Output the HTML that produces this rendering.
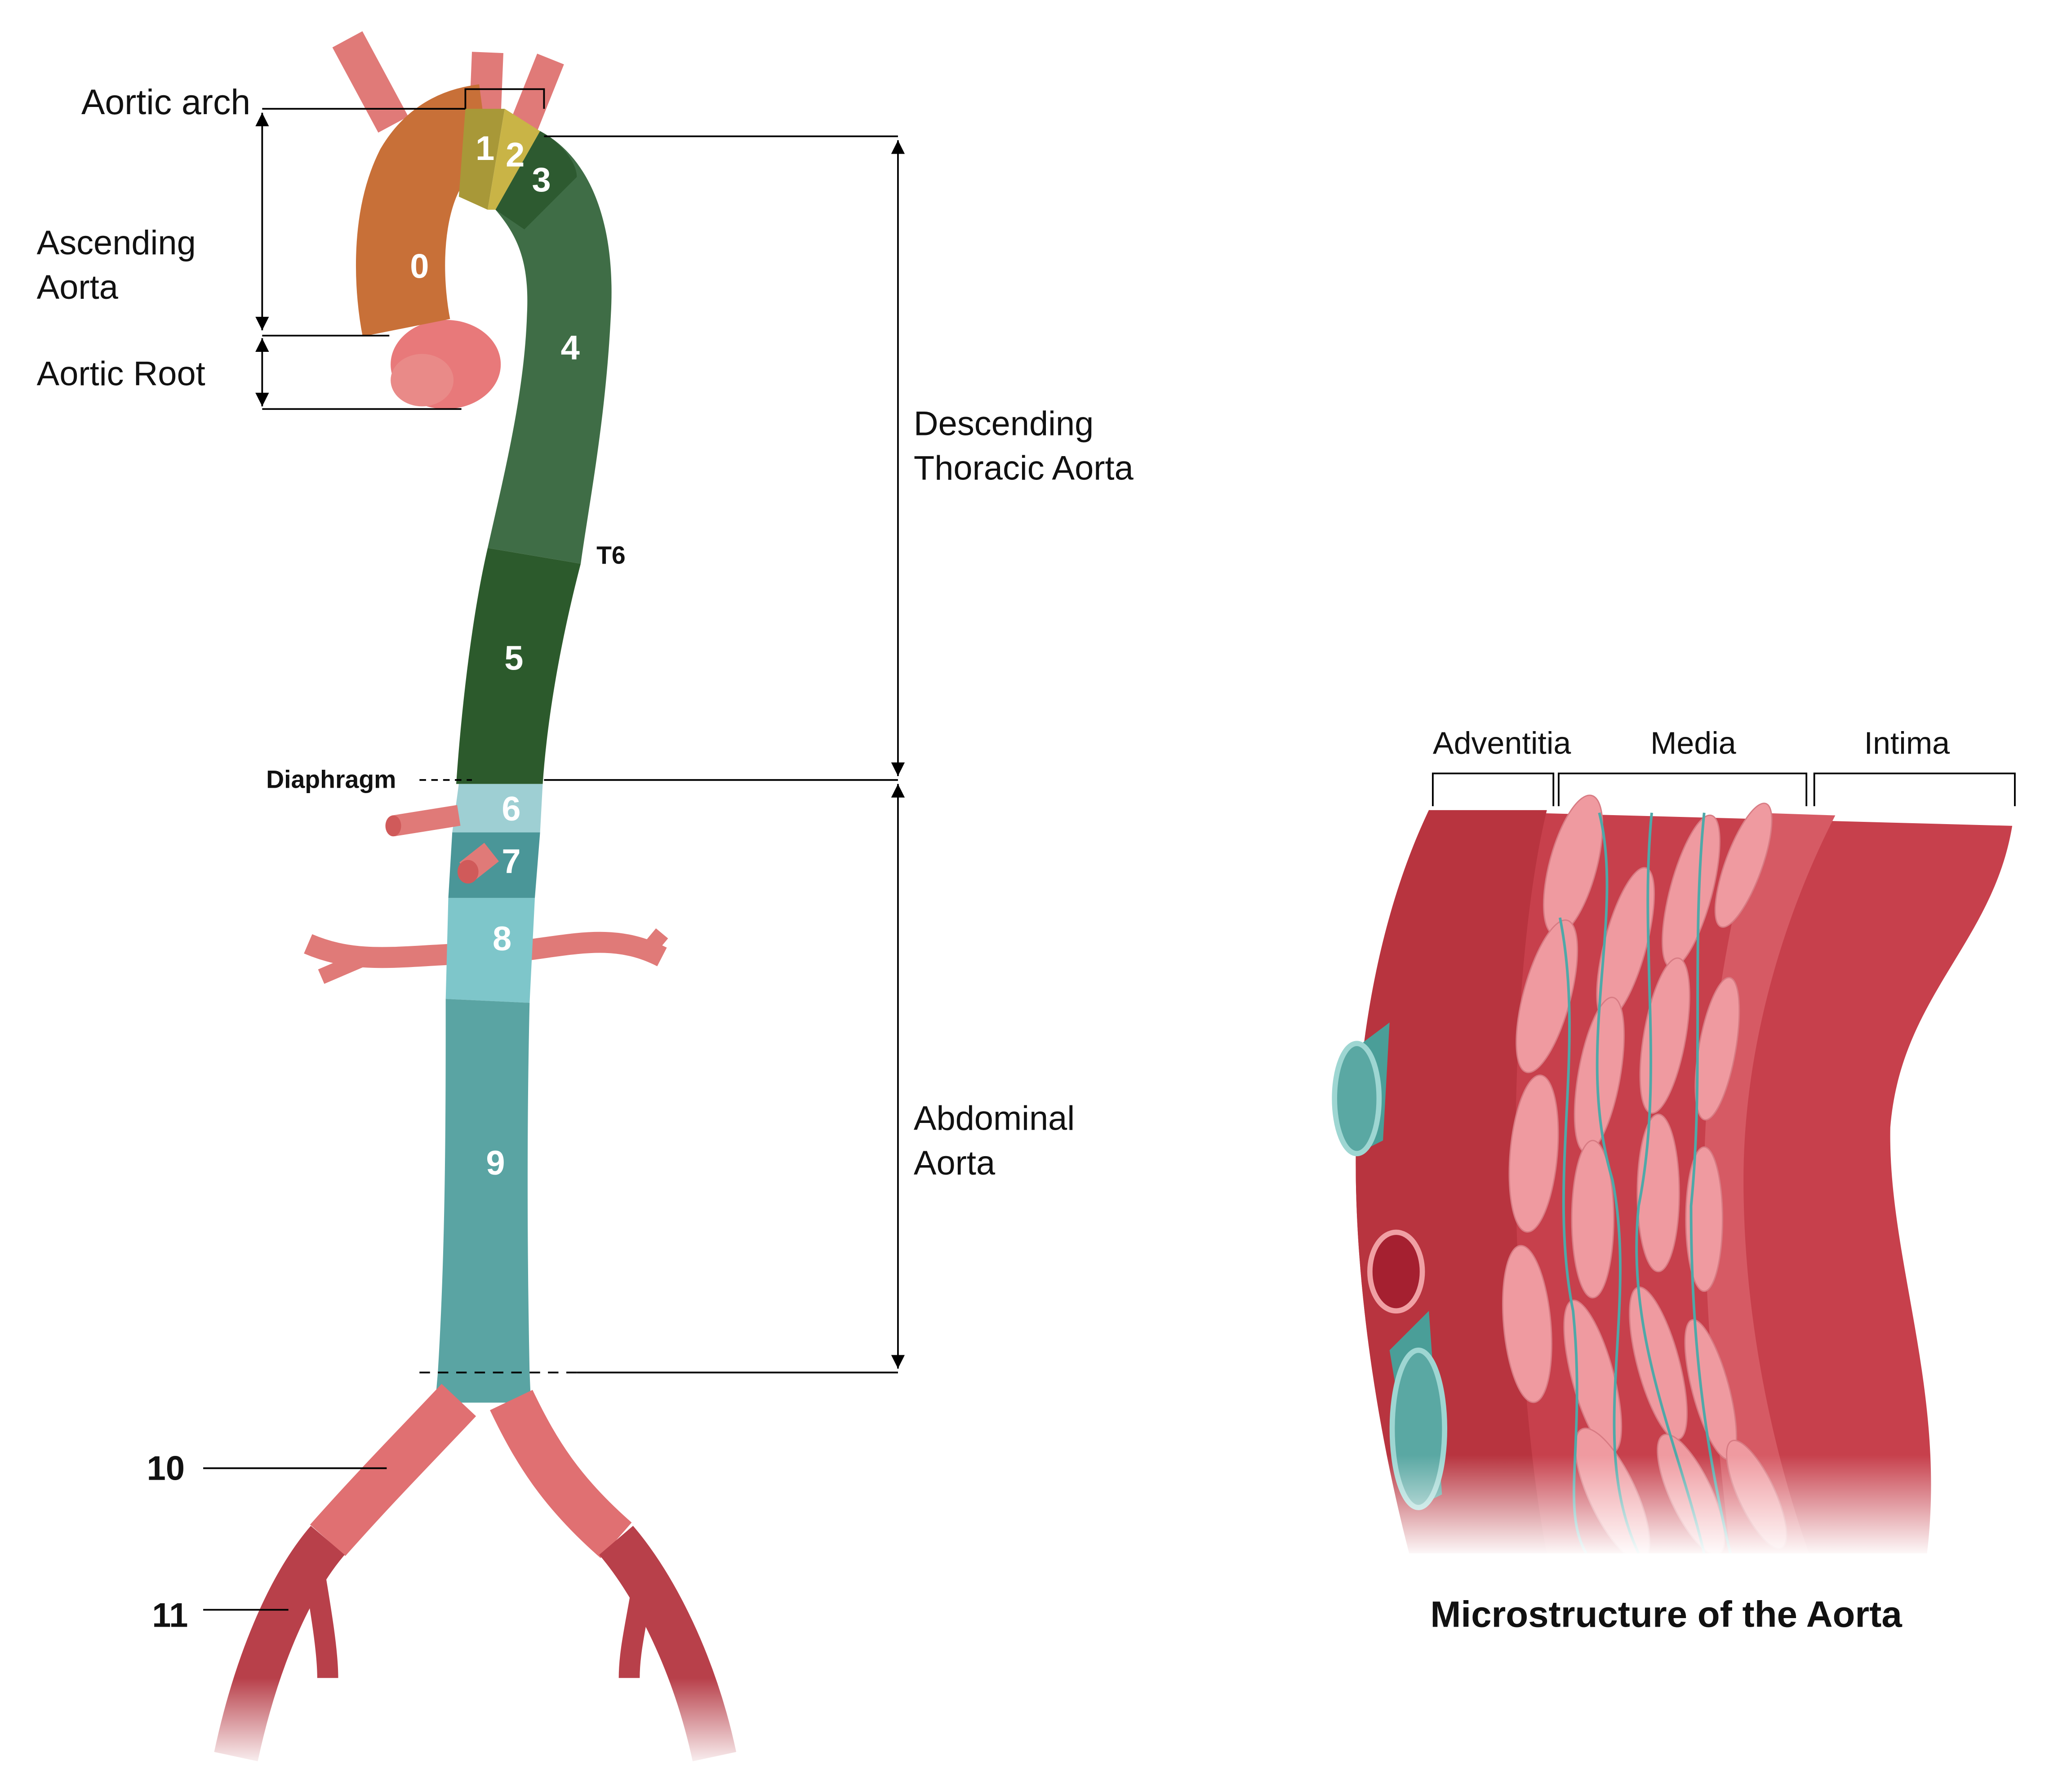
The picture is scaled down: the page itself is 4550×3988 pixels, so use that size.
<!DOCTYPE html>
<html><head><meta charset="utf-8"><style>
html,body{margin:0;padding:0;background:#fff;}
svg{display:block;}
text{font-family:"Liberation Sans",sans-serif;}
</style></head><body>
<svg width="4550" height="3988" viewBox="0 0 1560 1367" preserveAspectRatio="none" xmlns="http://www.w3.org/2000/svg">
<defs>
<marker id="ar" viewBox="0 0 10 10" refX="10" refY="5" markerWidth="8" markerHeight="8" orient="auto-start-reverse"><path d="M0,0 L10,5 L0,10z" fill="#000"/></marker>
<linearGradient id="fade" x1="0" y1="0" x2="0" y2="1"><stop offset="0" stop-color="#fff" stop-opacity="0"/><stop offset="1" stop-color="#fff" stop-opacity="1"/></linearGradient>
</defs>
<rect width="1560" height="1367" fill="#fff"/>

<path d="M265,30 L300,95" stroke="#e07a78" stroke-width="26" fill="none"/>
<path d="M372,40 L370,90" stroke="#e07a78" stroke-width="24" fill="none"/>
<path d="M420,45 L400,95" stroke="#e07a78" stroke-width="22" fill="none"/>
<ellipse cx="340" cy="278" rx="42" ry="34" fill="#e8797a"/>
<ellipse cx="322" cy="290" rx="24" ry="20" fill="#e98a88"/>
<path d="M310,250 C305,225 300,170 320,130 C335,105 355,100 370,98" stroke="#c87038" stroke-width="68" fill="none"/>
<path d="M370,160 C355,170 350,210 365,245 L380,240 C372,200 372,175 380,165z" fill="#fff"/>
<path d="M355,83 L385,83 L372,160 L350,150z" fill="#a89838"/>
<path d="M385,83 L412,100 L378,160 L372,160z" fill="#c9b446"/>
<path d="M412,100 C450,120 470,170 466,240 C462,320 450,380 443,430 L372,418 C385,360 400,300 402,240 C404,200 395,180 378,160z" fill="#3f6d46"/>
<path d="M412,100 C430,110 440,125 440,135 L400,175 L378,160z" fill="#2d5a30"/>
<path d="M372,418 L443,430 C430,480 418,540 414,598 L348,598 C352,540 360,470 372,418z" fill="#2c5a2c"/>
<path d="M350,598 L414,598 L412,635 L345,635z" fill="#9ecfd3"/>
<path d="M345,635 L412,635 L408,685 L342,685z" fill="#4a9698"/>
<path d="M300,630 L350,622" stroke="#e07a78" stroke-width="16" fill="none"/>
<ellipse cx="300" cy="630" rx="6" ry="8" fill="#d05a5a"/>
<path d="M356,665 L375,650" stroke="#e07a78" stroke-width="18" fill="none"/>
<ellipse cx="357" cy="665" rx="8" ry="9" fill="#d05a5a"/>
<path d="M235,720 C270,735 300,730 345,728" stroke="#e07a78" stroke-width="16" fill="none"/>
<path d="M400,725 C440,720 470,712 505,730" stroke="#e07a78" stroke-width="16" fill="none"/>
<path d="M245,745 L280,730" stroke="#e07a78" stroke-width="12" fill="none"/>
<path d="M505,712 L490,730" stroke="#e07a78" stroke-width="12" fill="none"/>
<path d="M342,685 L408,685 L404,765 L340,762z" fill="#7ec6ca"/>
<path d="M340,762 L404,765 C402,850 402,950 404,1047 L334,1047 C340,950 340,850 340,762z" fill="#5aa4a3"/>
<path d="M334,1047 L404,1047 L405,1070 L332,1070z" fill="#5aa4a3"/>
<path d="M350,1068 C320,1100 290,1130 250,1175" stroke="#e07072" stroke-width="36" fill="none"/>
<path d="M390,1068 C410,1110 430,1140 470,1175" stroke="#e07072" stroke-width="36" fill="none"/>
<path d="M250,1175 C220,1210 195,1270 180,1340" stroke="#b8404a" stroke-width="34" fill="none"/>
<path d="M470,1175 C500,1210 530,1270 545,1340" stroke="#b8404a" stroke-width="34" fill="none"/>
<path d="M240,1200 C245,1230 250,1260 250,1280" stroke="#b8404a" stroke-width="16" fill="none"/>
<path d="M490,1210 C485,1240 480,1260 480,1280" stroke="#b8404a" stroke-width="16" fill="none"/>
<rect x="150" y="1280" width="430" height="70" fill="url(#fade)"/>
<rect x="150" y="1345" width="430" height="22" fill="#fff"/>

<g fill="#fff" font-size="26" font-weight="bold" text-anchor="middle">
<text x="320" y="212">0</text>
<text x="370" y="122">1</text>
<text x="393" y="127">2</text>
<text x="413" y="146">3</text>
<text x="435" y="274">4</text>
<text x="392" y="511">5</text>
<text x="390" y="626">6</text>
<text x="390" y="666">7</text>
<text x="383" y="725">8</text>
<text x="378" y="896">9</text>
</g>

<g stroke="#000" stroke-width="1.3" fill="none">
<path d="M200,83 L355,83"/>
<path d="M355,83 L355,68 L415,68 L415,83"/>
<path d="M200,86 L200,252" marker-start="url(#ar)" marker-end="url(#ar)"/>
<path d="M200,258 L200,310" marker-start="url(#ar)" marker-end="url(#ar)"/>
<path d="M200,256 L297,256"/>
<path d="M200,312 L352,312"/>
<path d="M415,104 L685,104"/>
<path d="M685,107 L685,592" marker-start="url(#ar)" marker-end="url(#ar)"/>
<path d="M415,595 L685,595"/>
<path d="M685,598 L685,1044" marker-start="url(#ar)" marker-end="url(#ar)"/>
<path d="M440,1047 L685,1047"/>
<path d="M320,1047 L440,1047" stroke-dasharray="8,6"/>
<path d="M320,595 L360,595" stroke-dasharray="5,4"/>
<path d="M155,1120 L295,1120"/>
<path d="M155,1228 L220,1228"/>
<path d="M1093,615 L1093,590 L1185,590 L1185,615"/>
<path d="M1189,615 L1189,590 L1378,590 L1378,615"/>
<path d="M1384,615 L1384,590 L1537,590 L1537,615"/>
</g>
<g font-size="26" fill="#111">
<text x="62" y="87" font-size="27">Aortic arch</text>
<text x="28" y="194">Ascending</text>
<text x="28" y="228">Aorta</text>
<text x="28" y="294">Aortic Root</text>
<text x="697" y="332">Descending</text>
<text x="697" y="366">Thoracic Aorta</text>
<text x="697" y="862">Abdominal</text>
<text x="697" y="896">Aorta</text>
<text x="1093" y="575" font-size="24">Adventitia</text>
<text x="1259" y="575" font-size="24">Media</text>
<text x="1422" y="575" font-size="24">Intima</text>
</g>
<g font-weight="bold" fill="#111">
<text x="455" y="430" font-size="19">T6</text>
<text x="203" y="601" font-size="19">Diaphragm</text>
<text x="112" y="1129" font-size="26">10</text>
<text x="116" y="1241" font-size="26">11</text>
<text x="1271" y="1241" font-size="28" text-anchor="middle">Microstructure of the Aorta</text>
</g>

<path d="M1090,618 L1535,630 C1520,720 1450,760 1442,860 C1440,960 1485,1060 1470,1185 L1075,1185 C1040,1050 1025,900 1040,800 C1050,720 1070,660 1090,618z" fill="#c7404c"/>
<path d="M1090,618 L1180,618 C1160,700 1150,850 1160,1000 C1165,1100 1175,1160 1180,1185 L1075,1185 C1040,1050 1025,900 1040,800 C1050,720 1070,660 1090,618z" fill="#b8343f"/>
<path d="M1340,620 L1400,622 C1360,700 1330,800 1330,900 C1330,1000 1350,1100 1380,1185 L1320,1185 C1310,1100 1300,1000 1300,900 C1300,800 1320,700 1340,620z" fill="#d65a64"/>
<g fill="#ef9aa0" stroke="#d87c84" stroke-width="1">
<ellipse cx="1200" cy="660" rx="18" ry="55" transform="rotate(15 1200 660)"/>
<ellipse cx="1240" cy="720" rx="16" ry="60" transform="rotate(15 1240 720)"/>
<ellipse cx="1290" cy="680" rx="16" ry="60" transform="rotate(15 1290 680)"/>
<ellipse cx="1330" cy="660" rx="14" ry="50" transform="rotate(20 1330 660)"/>
<ellipse cx="1180" cy="760" rx="18" ry="60" transform="rotate(15 1180 760)"/>
<ellipse cx="1220" cy="820" rx="16" ry="60" transform="rotate(10 1220 820)"/>
<ellipse cx="1270" cy="790" rx="16" ry="60" transform="rotate(10 1270 790)"/>
<ellipse cx="1310" cy="800" rx="14" ry="55" transform="rotate(10 1310 800)"/>
<ellipse cx="1170" cy="880" rx="18" ry="60" transform="rotate(5 1170 880)"/>
<ellipse cx="1215" cy="930" rx="16" ry="60"/>
<ellipse cx="1265" cy="910" rx="16" ry="60"/>
<ellipse cx="1300" cy="930" rx="14" ry="55"/>
<ellipse cx="1165" cy="1010" rx="18" ry="60" transform="rotate(-5 1165 1010)"/>
<ellipse cx="1215" cy="1050" rx="16" ry="60" transform="rotate(-15 1215 1050)"/>
<ellipse cx="1265" cy="1040" rx="16" ry="60" transform="rotate(-15 1265 1040)"/>
<ellipse cx="1305" cy="1060" rx="14" ry="55" transform="rotate(-15 1305 1060)"/>
<ellipse cx="1230" cy="1140" rx="18" ry="55" transform="rotate(-25 1230 1140)"/>
<ellipse cx="1290" cy="1140" rx="16" ry="50" transform="rotate(-25 1290 1140)"/>
<ellipse cx="1340" cy="1140" rx="14" ry="45" transform="rotate(-25 1340 1140)"/>
</g>
<g stroke="#4fa8a8" stroke-width="2" fill="none">
<path d="M1220,620 C1240,700 1200,800 1230,900 C1250,1000 1210,1100 1250,1185"/>
<path d="M1260,620 C1250,720 1270,820 1250,920 C1240,1020 1280,1100 1300,1185"/>
<path d="M1300,620 C1290,720 1300,820 1290,920 C1290,1020 1300,1100 1320,1185"/>
<path d="M1190,700 C1210,800 1180,900 1200,1000 C1210,1100 1190,1150 1210,1185"/>
</g>
<path d="M1040,795 L1060,780 L1055,870 L1035,880z" fill="#4a9e98"/>
<ellipse cx="1035" cy="838" rx="17" ry="42" fill="#5aa8a3" stroke="#9ed6d2" stroke-width="4"/>
<ellipse cx="1065" cy="970" rx="20" ry="30" fill="#a52030" stroke="#f0a0a4" stroke-width="4"/>
<path d="M1060,1030 L1090,1000 L1100,1140 L1080,1150z" fill="#4a9e98"/>
<ellipse cx="1082" cy="1090" rx="20" ry="60" fill="#5aa8a3" stroke="#9ed6d2" stroke-width="4"/>
<rect x="1020" y="1110" width="530" height="78" fill="url(#fade)"/>
<rect x="1020" y="1185" width="530" height="15" fill="#fff"/>
</svg>
</body></html>
